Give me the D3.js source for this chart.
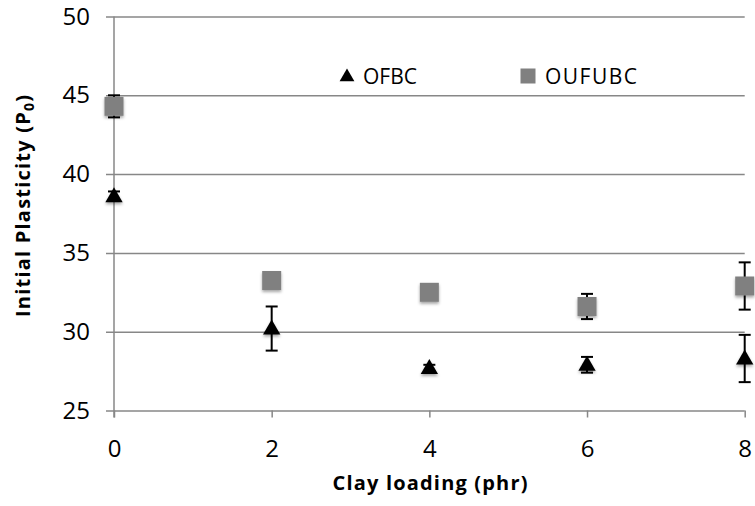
<!DOCTYPE html>
<html>
<head>
<meta charset="utf-8">
<script src="https://cdn.jsdelivr.net/npm/d3@7"></script>
<style>
  body { margin: 0; background: #fff; }
  text { font-family: "Open Sans", "Liberation Sans", sans-serif; }
</style>
</head>
<body>
<div id="chart"></div>
<script>
// data
const clayLoading = [0, 2, 4, 6, 8];
const ofbcValues = [38.6, 30.2, 27.7, 27.9, 28.3];
const ofbcErrors = [0.3, 1.4, 0.2, 0.5, 1.5];
const oufubcValues = [44.3, 33.25, 32.5, 31.6, 32.9];
const oufubcErrors = [0.7, 0.2, 0.2, 0.8, 1.5];
const xTicks = [0, 2, 4, 6, 8];
const yTicks = [25, 30, 35, 40, 45, 50];

const width = 755, height = 506;
const margin = { top: 16.5, right: 10, bottom: 95.5, left: 114 };
const plotW = 744.7 - margin.left;
const plotH = height - margin.top - margin.bottom;

const svg = d3.select("#chart").append("svg")
    .attr("width", width)
    .attr("height", height);

const defs = svg.append("defs");
const shadow = defs.append("filter").attr("id", "shadow")
    .attr("x", "-50%").attr("y", "-50%").attr("width", "200%").attr("height", "200%");
shadow.append("feDropShadow")
    .attr("dx", 0).attr("dy", 2).attr("stdDeviation", 1.5)
    .attr("flood-color", "#000").attr("flood-opacity", 0.35);

const g = svg.append("g").attr("transform", `translate(${margin.left},${margin.top})`);

const x = d3.scaleLinear().domain([0, 8]).range([0, plotW]);
const y = d3.scaleLinear().domain([25, 50]).range([plotH, 0]);

// horizontal gridlines with left tick stubs
g.append("g")
    .call(d3.axisLeft(y).tickValues(yTicks).tickSize(-plotW).tickSizeOuter(0).tickPadding(24))
    .call(a => a.select(".domain").remove())
    .call(a => a.selectAll(".tick line").attr("x1", -8).attr("stroke", "#878787").attr("stroke-width", 1.5))
    .call(a => a.selectAll(".tick text").attr("font-size", 24).attr("fill", "#000"));

// x axis
g.append("g")
    .attr("transform", `translate(0,${plotH})`)
    .call(d3.axisBottom(x).tickValues(xTicks).tickSize(7).tickSizeOuter(0).tickPadding(22))
    .call(a => a.select(".domain").remove())
    .call(a => a.selectAll(".tick line").attr("stroke", "#878787").attr("stroke-width", 1.5))
    .call(a => a.selectAll(".tick text").attr("font-size", 24).attr("fill", "#000"));

// vertical axis line
g.append("line")
    .attr("x1", x(0)).attr("x2", x(0))
    .attr("y1", 0).attr("y2", plotH + 7)
    .attr("stroke", "#878787").attr("stroke-width", 1.5);

// axis titles
svg.append("text")
    .attr("x", 430)
    .attr("y", 490)
    .attr("text-anchor", "middle")
    .attr("font-size", 20)
    .attr("font-weight", "bold")
    .attr("textLength", 195)
    .attr("lengthAdjust", "spacing")
    .text("Clay loading (phr)");

const yTitle = svg.append("text")
    .attr("transform", "translate(30,206) rotate(-90)")
    .attr("text-anchor", "middle")
    .attr("font-size", 20)
    .attr("font-weight", "bold")
    .attr("textLength", 222)
    .attr("lengthAdjust", "spacing");
yTitle.append("tspan").text("Initial Plasticity (P");
yTitle.append("tspan").attr("font-size", 14).attr("dy", 4).text("0");
yTitle.append("tspan").attr("dy", -4).text(")");

function drawErrors(values, errors) {
    const eg = g.append("g").attr("stroke", "#000").attr("stroke-width", 2);
    values.forEach((v, i) => {
        const cx = x(clayLoading[i]);
        const top = y(v + errors[i]), bot = y(v - errors[i]);
        eg.append("line").attr("x1", cx).attr("x2", cx).attr("y1", top).attr("y2", bot);
        eg.append("line").attr("x1", cx - 6).attr("x2", cx + 6).attr("y1", top).attr("y2", top);
        eg.append("line").attr("x1", cx - 6).attr("x2", cx + 6).attr("y1", bot).attr("y2", bot);
    });
}

const triangle = d3.symbol().type(d3.symbolTriangle).size(130);

// OUFUBC squares
drawErrors(oufubcValues, oufubcErrors);
g.append("g").selectAll("rect")
    .data(oufubcValues)
    .join("rect")
    .attr("x", (d, i) => x(clayLoading[i]) - 9.5)
    .attr("y", d => y(d) - 9.5)
    .attr("width", 19)
    .attr("height", 19)
    .attr("fill", "#808080")
    .attr("filter", "url(#shadow)");

// OFBC triangles
drawErrors(ofbcValues, ofbcErrors);
g.append("g").selectAll("path")
    .data(ofbcValues)
    .join("path")
    .attr("d", triangle)
    .attr("transform", (d, i) => `translate(${x(clayLoading[i])},${y(d) + 1})`)
    .attr("fill", "#000")
    .attr("filter", "url(#shadow)");

// legend
const legend = svg.append("g");
legend.append("path")
    .attr("d", d3.symbol().type(d3.symbolTriangle).size(95))
    .attr("transform", "translate(347,77)")
    .attr("fill", "#000");
legend.append("text").attr("x", 363).attr("y", 83.5).attr("font-size", 21).text("OFBC");
legend.append("rect")
    .attr("x", 520.5).attr("y", 68.5).attr("width", 15).attr("height", 15)
    .attr("fill", "#808080");
legend.append("text").attr("x", 545).attr("y", 83.5).attr("font-size", 21)
    .attr("textLength", 92).attr("lengthAdjust", "spacing").text("OUFUBC");
</script>
</body>
</html>
